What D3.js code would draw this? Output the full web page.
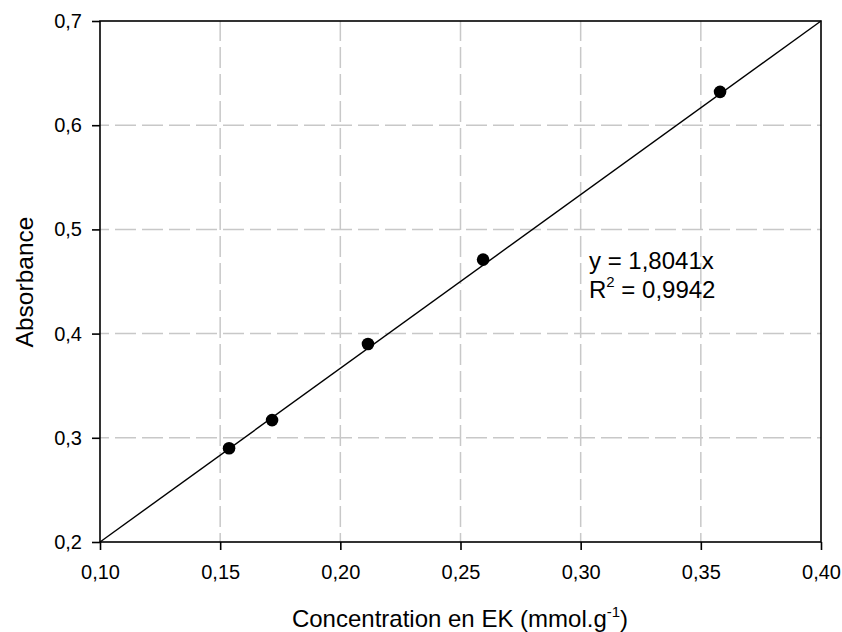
<!DOCTYPE html>
<html><head><meta charset="utf-8">
<script src="https://cdn.jsdelivr.net/npm/d3@7"></script>
<style>body{margin:0;background:#fff}svg{display:block;font-family:"Liberation Sans",Arial,sans-serif}</style>
</head><body>
<svg id="c" width="842" height="632"></svg>
<script>
const concentration = [0.1537, 0.1716, 0.2115, 0.2594, 0.3580];
const absorbance = [0.290, 0.317, 0.390, 0.471, 0.632];
const fitX = [0.10, 0.40];
const fitY = [0.20, 0.70];
const xTicks = [0.10, 0.15, 0.20, 0.25, 0.30, 0.35, 0.40];
const yTicks = [0.2, 0.3, 0.4, 0.5, 0.6, 0.7];

const svg = d3.select("#c");
const L = 100, R = 821, T = 21, B = 542;
const x = d3.scaleLinear().domain([0.10, 0.40]).range([L, R]);
const y = d3.scaleLinear().domain([0.2, 0.7]).range([B, T]);
const fmt = (d, n) => d.toFixed(n).replace(".", ",");
const FONT = "Liberation Sans, Arial, sans-serif";

// grid
svg.append("g").selectAll("line").data(xTicks.slice(1, -1)).join("line")
  .attr("x1", d => x(d)).attr("x2", d => x(d)).attr("y1", B).attr("y2", T)
  .attr("stroke", "#c8c8c8").attr("stroke-width", 1.5).attr("stroke-dasharray", "21,6").attr("stroke-dashoffset", 12);
svg.append("g").selectAll("line").data(yTicks.slice(1, -1)).join("line")
  .attr("x1", L).attr("x2", R).attr("y1", d => y(d)).attr("y2", d => y(d))
  .attr("stroke", "#c8c8c8").attr("stroke-width", 1.5).attr("stroke-dasharray", "21,6").attr("stroke-dashoffset", 12);

// frame
svg.append("rect").attr("x", L).attr("y", T).attr("width", R - L).attr("height", B - T)
  .attr("fill", "none").attr("stroke", "#000").attr("stroke-width", 1.6);

// axes
const xa = svg.append("g").attr("transform", `translate(0,${B})`)
  .call(d3.axisBottom(x).tickValues(xTicks).tickFormat(d => fmt(d, 2)).tickSize(8).tickPadding(15));
const ya = svg.append("g").attr("transform", `translate(${L},0)`)
  .call(d3.axisLeft(y).tickValues(yTicks).tickFormat(d => fmt(d, 1)).tickSize(8).tickPadding(10));
[xa, ya].forEach(g => {
  g.select(".domain").remove();
  g.selectAll("line").attr("stroke", "#000").attr("stroke-width", 1.6);
  g.selectAll("text").attr("font-size", 20).attr("fill", "#000").attr("font-family", FONT);
});

// fit line
svg.append("line").attr("x1", x(fitX[0])).attr("y1", y(fitY[0])).attr("x2", x(fitX[1])).attr("y2", y(fitY[1]))
  .attr("stroke", "#000").attr("stroke-width", 1.4);

// points
svg.append("g").selectAll("circle").data(concentration).join("circle")
  .attr("cx", d => x(d)).attr("cy", (d, i) => y(absorbance[i])).attr("r", 6.3).attr("fill", "#000");

// annotation
svg.append("text").attr("x", 589).attr("y", 269).attr("font-size", 24).attr("fill", "#000").text("y = 1,8041x");
const t2 = svg.append("text").attr("x", 589).attr("y", 298).attr("font-size", 24).attr("fill", "#000");
t2.append("tspan").text("R");
t2.append("tspan").attr("dy", -11).attr("font-size", 15).text("2");
t2.append("tspan").attr("dy", 11).text(" = 0,9942");

// axis titles
svg.append("text").attr("transform", "translate(33,282) rotate(-90)").attr("text-anchor", "middle")
  .attr("font-size", 24.5).attr("fill", "#000").text("Absorbance");
const xt = svg.append("text").attr("x", 460).attr("y", 627).attr("text-anchor", "middle")
  .attr("font-size", 24).attr("fill", "#000");
xt.append("tspan").text("Concentration en EK (mmol.g");
xt.append("tspan").attr("dy", -10).attr("font-size", 15).text("-1");
xt.append("tspan").attr("dy", 10).text(")");
</script>
</body></html>
